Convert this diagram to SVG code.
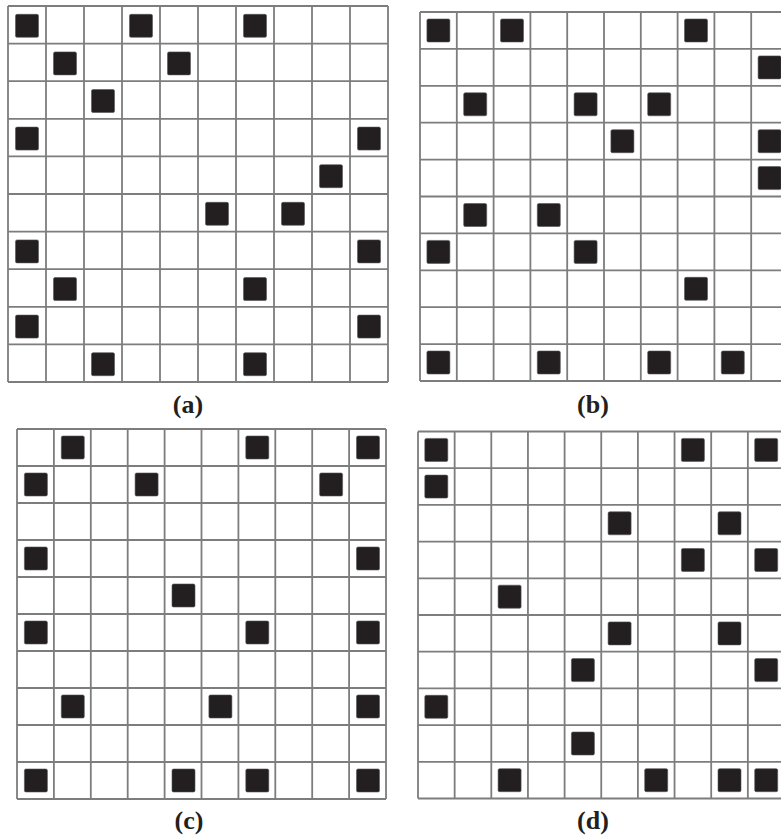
<svg xmlns="http://www.w3.org/2000/svg" width="781" height="838" viewBox="0 0 781 838">
<style>
.grid{fill:none;stroke:#7d7d7d;stroke-width:1.8}
.sq{fill:#231f20;stroke:#555;stroke-width:0.6}
.lbl{font-family:"Liberation Serif","Times New Roman",serif;font-weight:bold;font-size:26px;fill:#231f20;text-anchor:middle}
</style>
<defs>
<rect id="s" class="sq" width="23" height="23" rx="1.5"/>
</defs>
<rect width="781" height="838" fill="#fff"/>

<g id="panel-a">
<path class="grid" d="M8 6V382M46 6V382M84 6V382M122 6V382M160 6V382M198 6V382M236 6V382M274 6V382M312 6V382M350 6V382M388 6V382M8 6H388M8 43.6H388M8 81.2H388M8 118.8H388M8 156.4H388M8 194H388M8 231.6H388M8 269.2H388M8 306.8H388M8 344.4H388M8 382H388"/>
<use href="#s" x="15.5" y="14.3"/><use href="#s" x="129.5" y="14.3"/><use href="#s" x="243.5" y="14.3"/>
<use href="#s" x="53.5" y="51.9"/><use href="#s" x="167.5" y="51.9"/>
<use href="#s" x="91.5" y="89.5"/>
<use href="#s" x="15.5" y="127.1"/><use href="#s" x="357.5" y="127.1"/>
<use href="#s" x="319.5" y="164.7"/>
<use href="#s" x="205.5" y="202.3"/><use href="#s" x="281.5" y="202.3"/>
<use href="#s" x="15.5" y="239.9"/><use href="#s" x="357.5" y="239.9"/>
<use href="#s" x="53.5" y="277.5"/><use href="#s" x="243.5" y="277.5"/>
<use href="#s" x="15.5" y="315.1"/><use href="#s" x="357.5" y="315.1"/>
<use href="#s" x="91.5" y="352.7"/><use href="#s" x="243.5" y="352.7"/>
<text class="lbl" x="188" y="413">(a)</text>
</g>

<g id="panel-b">
<path class="grid" d="M420 12V381M456.8 12V381M493.6 12V381M530.4 12V381M567.2 12V381M604 12V381M640.8 12V381M677.6 12V381M714.4 12V381M751.2 12V381M788 12V381M420 12H788M420 48.9H788M420 85.8H788M420 122.7H788M420 159.6H788M420 196.5H788M420 233.4H788M420 270.3H788M420 307.2H788M420 344.1H788M420 381H788"/>
<use href="#s" x="426.9" y="19"/><use href="#s" x="500.5" y="19"/><use href="#s" x="684.5" y="19"/>
<use href="#s" x="758.1" y="55.9"/>
<use href="#s" x="463.7" y="92.8"/><use href="#s" x="574.1" y="92.8"/><use href="#s" x="647.7" y="92.8"/>
<use href="#s" x="610.9" y="129.7"/><use href="#s" x="758.1" y="129.7"/>
<use href="#s" x="758.1" y="166.6"/>
<use href="#s" x="463.7" y="203.5"/><use href="#s" x="537.3" y="203.5"/>
<use href="#s" x="426.9" y="240.4"/><use href="#s" x="574.1" y="240.4"/>
<use href="#s" x="684.5" y="277.3"/>
<use href="#s" x="426.9" y="351"/><use href="#s" x="537.3" y="351"/><use href="#s" x="647.7" y="351"/><use href="#s" x="721.3" y="351"/>
<text class="lbl" x="593" y="413">(b)</text>
</g>

<g id="panel-c">
<path class="grid" d="M17 429V799M53.9 429V799M90.8 429V799M127.7 429V799M164.6 429V799M201.5 429V799M238.4 429V799M275.3 429V799M312.2 429V799M349.1 429V799M386 429V799M17 429H386M17 466H386M17 503H386M17 540H386M17 577H386M17 614H386M17 651H386M17 688H386M17 725H386M17 762H386M17 799H386"/>
<use href="#s" x="61.3" y="436"/><use href="#s" x="245.8" y="436"/><use href="#s" x="356.5" y="436"/>
<use href="#s" x="24.4" y="473"/><use href="#s" x="135.1" y="473"/><use href="#s" x="319.6" y="473"/>
<use href="#s" x="24.4" y="547"/><use href="#s" x="356.5" y="547"/>
<use href="#s" x="172" y="584"/>
<use href="#s" x="24.4" y="621"/><use href="#s" x="245.8" y="621"/><use href="#s" x="356.5" y="621"/>
<use href="#s" x="61.3" y="695"/><use href="#s" x="208.9" y="695"/><use href="#s" x="356.5" y="695"/>
<use href="#s" x="24.4" y="769"/><use href="#s" x="172" y="769"/><use href="#s" x="245.8" y="769"/><use href="#s" x="356.5" y="769"/>
<text class="lbl" x="189" y="829">(c)</text>
</g>

<g id="panel-d">
<path class="grid" d="M418 431.5V798.5M454.65 431.5V798.5M491.3 431.5V798.5M527.95 431.5V798.5M564.6 431.5V798.5M601.25 431.5V798.5M637.9 431.5V798.5M674.55 431.5V798.5M711.2 431.5V798.5M747.85 431.5V798.5M784.5 431.5V798.5M418 431.5H784.5M418 468.2H784.5M418 504.9H784.5M418 541.6H784.5M418 578.3H784.5M418 615H784.5M418 651.7H784.5M418 688.4H784.5M418 725.1H784.5M418 761.8H784.5M418 798.5H784.5"/>
<use href="#s" x="424.8" y="438.4"/><use href="#s" x="681.4" y="438.4"/><use href="#s" x="754.7" y="438.4"/>
<use href="#s" x="424.8" y="475.1"/>
<use href="#s" x="608.1" y="511.8"/><use href="#s" x="718" y="511.8"/>
<use href="#s" x="681.4" y="548.5"/><use href="#s" x="754.7" y="548.5"/>
<use href="#s" x="498.1" y="585.2"/>
<use href="#s" x="608.1" y="621.9"/><use href="#s" x="718" y="621.9"/>
<use href="#s" x="571.4" y="658.6"/><use href="#s" x="754.7" y="658.6"/>
<use href="#s" x="424.8" y="695.3"/>
<use href="#s" x="571.4" y="732"/>
<use href="#s" x="498.1" y="768.7"/><use href="#s" x="644.7" y="768.7"/><use href="#s" x="718" y="768.7"/><use href="#s" x="754.7" y="768.7"/>
<text class="lbl" x="593" y="829">(d)</text>
</g>
</svg>
